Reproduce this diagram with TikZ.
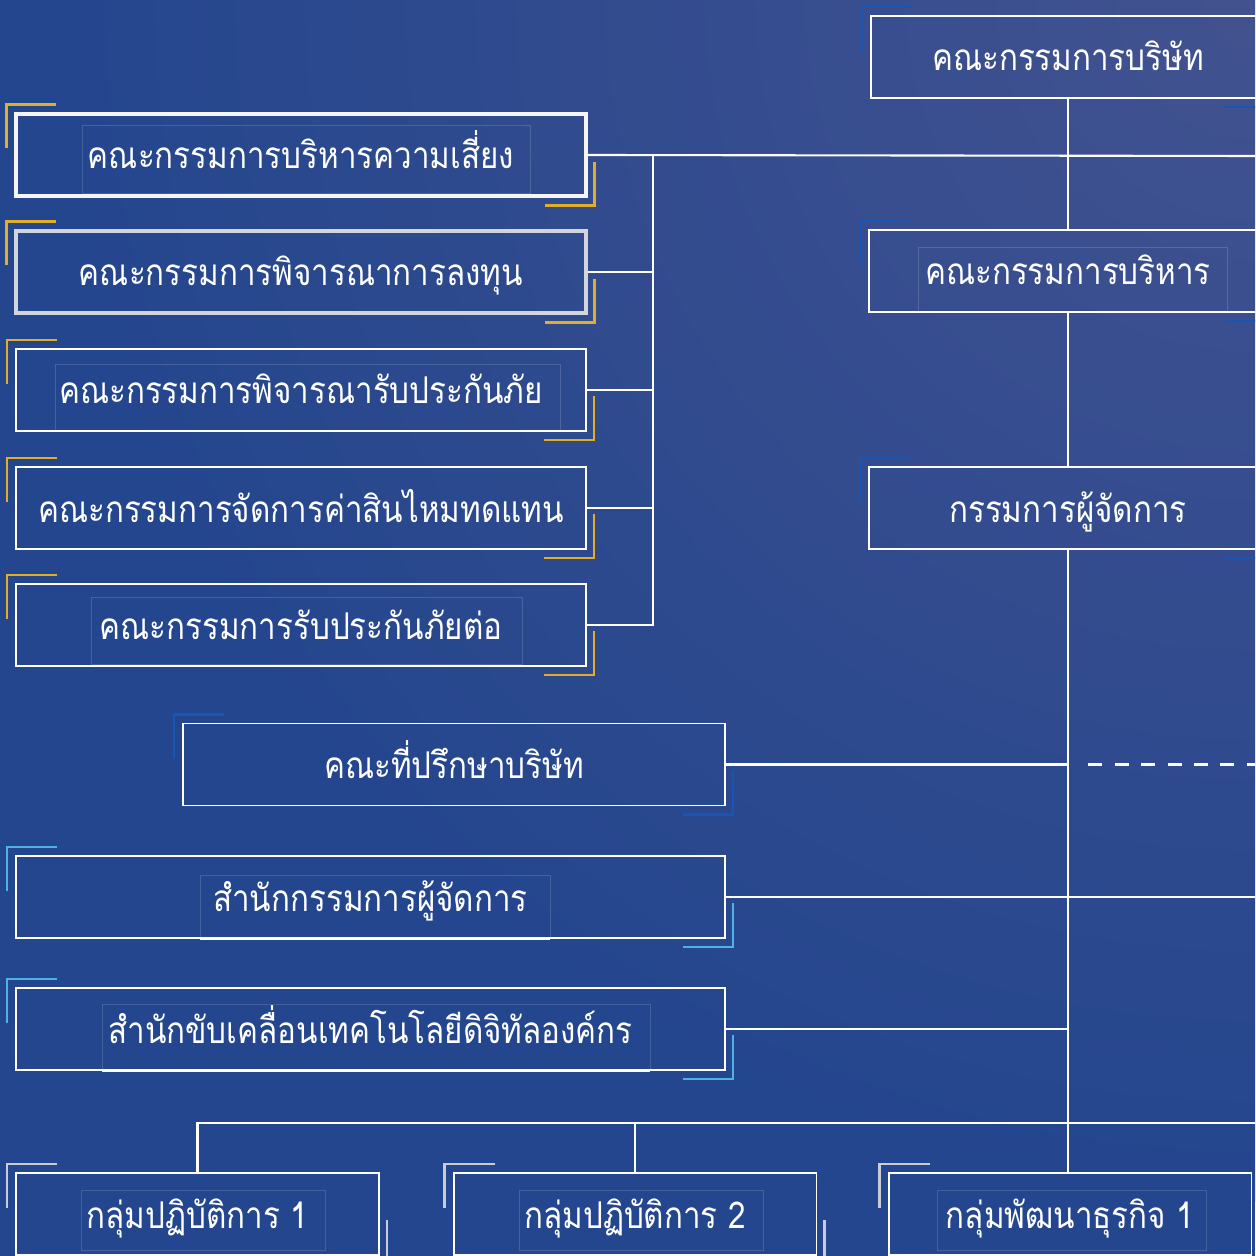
\documentclass[tikz,border=0pt]{standalone}
\usepackage{fontspec}
\newfontfamily\thaifont[Script=Thai,FakeStretch=0.85]{Loma}
\definecolor{bgblue}{HTML}{24468E}
\definecolor{bglight}{HTML}{42528F}
\definecolor{mkgold}{HTML}{E2AE23}
\definecolor{mksky}{HTML}{4DB2E8}
\definecolor{mkblue}{HTML}{1B55B4}
\definecolor{mkgray}{HTML}{C9CDD8}
\definecolor{rimgray}{HTML}{D3D5DD}

\tikzset{
  box/.style={draw=white, line width=1.1pt, inner sep=0pt, minimum height=1.64cm,
    text height=0.7cm, text depth=0.14cm,
    font=\thaifont\fontsize{21}{24}\selectfont, text=white},
  link/.style={draw=white, line width=1.2pt},
  cornerline/.style={line width=1.4pt},
  faint/.style={draw=white, draw opacity=0.15, line width=0.5pt}
}

\begin{document}
\begin{tikzpicture}[x=0.02cm,y=-0.02cm,line cap=butt,line join=miter]
\clip (0,0) rectangle (1255,1256);
\fill[bgblue] (0,0) rectangle (1255,1256);
\shade[inner color=bglight, outer color=bgblue] (55,-1200) rectangle (2455,1200);

% board, executive, managing director
\node[box, minimum width=7.88cm] (board) at (1068,57) {คณะกรรมการบริษัท};
\node[box, minimum width=7.96cm] (exec) at (1068,271) {คณะกรรมการบริหาร};
\node[box, minimum width=7.96cm] (md) at (1068,508) {กรรมการผู้จัดการ};

% committees
\node[box, line width=1.8pt, draw=white!92!gray, minimum width=11.4cm] (risk) at (301,155) {คณะกรรมการบริหารความเสี่ยง};
\node[box, line width=1.8pt, draw=rimgray, minimum width=11.4cm] (invest) at (301,272) {คณะกรรมการพิจารณาการลงทุน};
\node[box, minimum width=11.4cm] (uw) at (301,390) {คณะกรรมการพิจารณารับประกันภัย};
\node[box, minimum width=11.4cm] (claim) at (301,508) {คณะกรรมการจัดการค่าสินไหมทดแทน};
\node[box, minimum width=11.4cm] (reins) at (301,625) {คณะกรรมการรับประกันภัยต่อ};

\node[box, minimum width=10.84cm] (adv) at (454,764.5) {คณะที่ปรึกษาบริษัท};
\node[box, minimum width=14.18cm] (office) at (370.5,897) {สำนักกรรมการผู้จัดการ};
\node[box, minimum width=14.18cm] (digital) at (370.5,1029) {สำนักขับเคลื่อนเทคโนโลยีดิจิทัลองค์กร};

% groups
\node[box, minimum width=7.26cm] (grp1) at (197.5,1214) {กลุ่มปฏิบัติการ 1};
\node[box, minimum width=7.26cm] (grp2) at (635,1214) {กลุ่มปฏิบัติการ 2};
\node[box, minimum width=7.26cm] (grp3) at (1070,1214) {กลุ่มพัฒนาธุรกิจ 1};

% faint inner frames
\draw[faint] (82,125) rectangle (530,193);
\draw[faint] (55,364) rectangle (560,430);
\draw[faint] (91,597) rectangle (522,664);
\draw[faint] (918,247) rectangle (1227,311);
\draw[faint] (200,875) rectangle (550,938);
\draw[faint] (102,1004) rectangle (650,1070);
\draw[faint] (81,1190) rectangle (325,1250);
\draw[faint] (519,1190) rectangle (763,1250);
\draw[faint] (937,1190) rectangle (1206,1250);
\draw[white, line width=1.7pt] (200,938) -- (550,938);
\draw[white, line width=1.7pt] (102,1070) -- (650,1070);

% connectors
\coordinate (topR) at (1262,156);
\coordinate (busT) at (653,156);
\coordinate (advR) at (1262,764.5);
\coordinate (botR) at (1262,1123);
\draw[link] (risk.east) -- (topR);
\draw[link] (busT) |- (reins.east);
\foreach \n in {invest,uw,claim}
  \draw[link] (\n.east) -- (\n.east -| busT);
\draw[link] (board.south) -- (exec.north);
\draw[link] (exec.south) -- (md.north);
\draw[link] (md.south) -- (md.south |- grp3.north);
\draw[link] (adv.east) -- (adv.east -| md.south);
\draw[link, dash pattern=on 0.28cm off 0.25cm] ([shift={(20,0)}]adv.east -| md.south) -- (advR);
\draw[link] (office.east) -- (office.east -| topR);
\draw[link] (digital.east) -- (digital.east -| md.south);
\draw[link] (grp1.north) |- (botR);
\draw[link] (grp2.north) -- (grp2.north |- botR);

% corner marks
\foreach \n/\c in {risk/mkgold,invest/mkgold,uw/mkgold,claim/mkgold,reins/mkgold,
    office/mksky,digital/mksky,adv/mkblue,board/mkblue,exec/mkblue,md/mkblue,
    grp1/mkgray,grp2/mkgray,grp3/mkgray}{
  \draw[cornerline,\c] ([shift={(-8,36)}]\n.north west) -- ([shift={(-8,-8)}]\n.north west) -- ([shift={(42,-8)}]\n.north west);
  \draw[cornerline,\c] ([shift={(7,-36)}]\n.south east) -- ([shift={(7,8)}]\n.south east) -- ([shift={(-43,8)}]\n.south east);
}
\end{tikzpicture}
\end{document}
